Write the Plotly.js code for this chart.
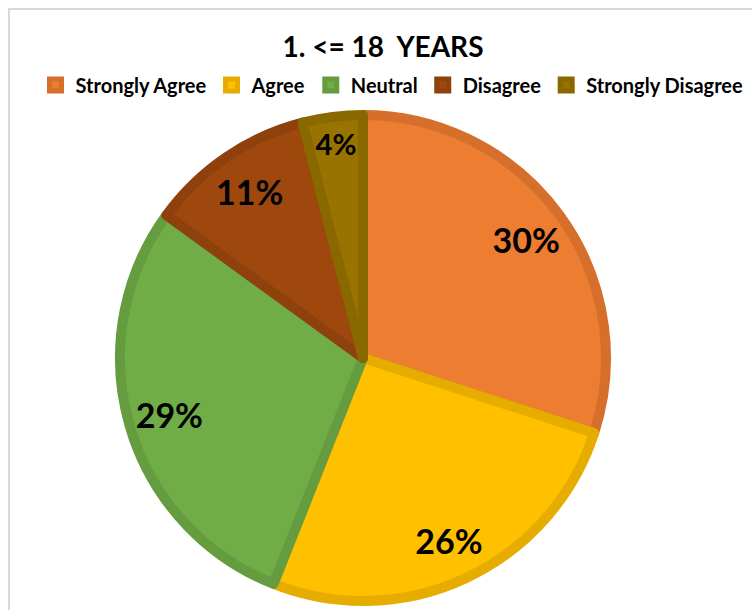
<!DOCTYPE html>
<html>
<head>
<meta charset="utf-8">
<script src="https://cdn.plot.ly/plotly-3.0.1.min.js"></script>
<style>html,body{margin:0;padding:0;background:#fff}#chart{width:752px;height:610px}</style>
</head>
<body>
<div id="chart"></div>
<script>
const categories = ["Strongly Agree", "Agree", "Neutral", "Disagree", "Strongly Disagree"];
const values = [30, 26, 29, 11, 4];
const fillColors = ["#ED7D31", "#FFC000", "#70AD47", "#9E480E", "#997300"];
const edgeColors = ["#D56F2B", "#E6AD00", "#659C40", "#8E410D", "#8A6800"];
const chartTitle = "1. &lt;= 18  YEARS";

const W = 752, H = 610;
const cx = 363, cy = 358, r = 243;
const FONT = "Lato, 'Open Sans', sans-serif";
const pieDomain = { x: [(cx - r) / W, (cx + r) / W], y: [(H - cy - r) / H, (H - cy + r) / H] };

const slices = {
  type: "pie",
  labels: categories,
  values: values,
  sort: false,
  direction: "clockwise",
  rotation: 0,
  marker: { colors: fillColors, line: { color: edgeColors, width: 10 } },
  textinfo: "none",
  hoverinfo: "label+percent",
  domain: pieDomain
};

// transparent ring overlay used only to place the percentage labels near the rim
const labelRing = {
  type: "pie",
  labels: categories,
  values: values,
  sort: false,
  direction: "clockwise",
  rotation: 0,
  hole: 0.66,
  showlegend: false,
  marker: { colors: categories.map(() => "rgba(0,0,0,0)"), line: { width: 0 } },
  texttemplate: "%{value}%",
  textposition: "inside",
  insidetextorientation: "horizontal",
  textfont: { family: FONT, size: 34, color: "#000", weight: "bold" },
  hoverinfo: "skip",
  domain: pieDomain
};

const layout = {
  width: W, height: H,
  margin: { l: 0, r: 0, t: 0, b: 0 },
  paper_bgcolor: "#fff",
  title: {
    text: chartTitle,
    x: 383 / W, xanchor: "center",
    y: 1 - 47 / H, yanchor: "middle",
    font: { family: FONT, size: 28, color: "#000", weight: "bold" }
  },
  showlegend: true,
  legend: {
    orientation: "h",
    x: 392 / W, xanchor: "center",
    y: 1 - 85 / H, yanchor: "middle",
    font: { family: FONT, size: 20, color: "#000", weight: "bold" },
    itemwidth: 30,
    traceorder: "normal"
  },
  shapes: [{
    type: "rect", xref: "paper", yref: "paper",
    x0: 9 / W, x1: 1.1, y0: -0.1, y1: 1 - 9 / H,
    line: { color: "#D9D9D9", width: 2 }, fillcolor: "rgba(0,0,0,0)", layer: "below"
  }]
};

Plotly.newPlot("chart", [slices, labelRing], layout, { displayModeBar: false, staticPlot: true });
</script>
</body>
</html>
